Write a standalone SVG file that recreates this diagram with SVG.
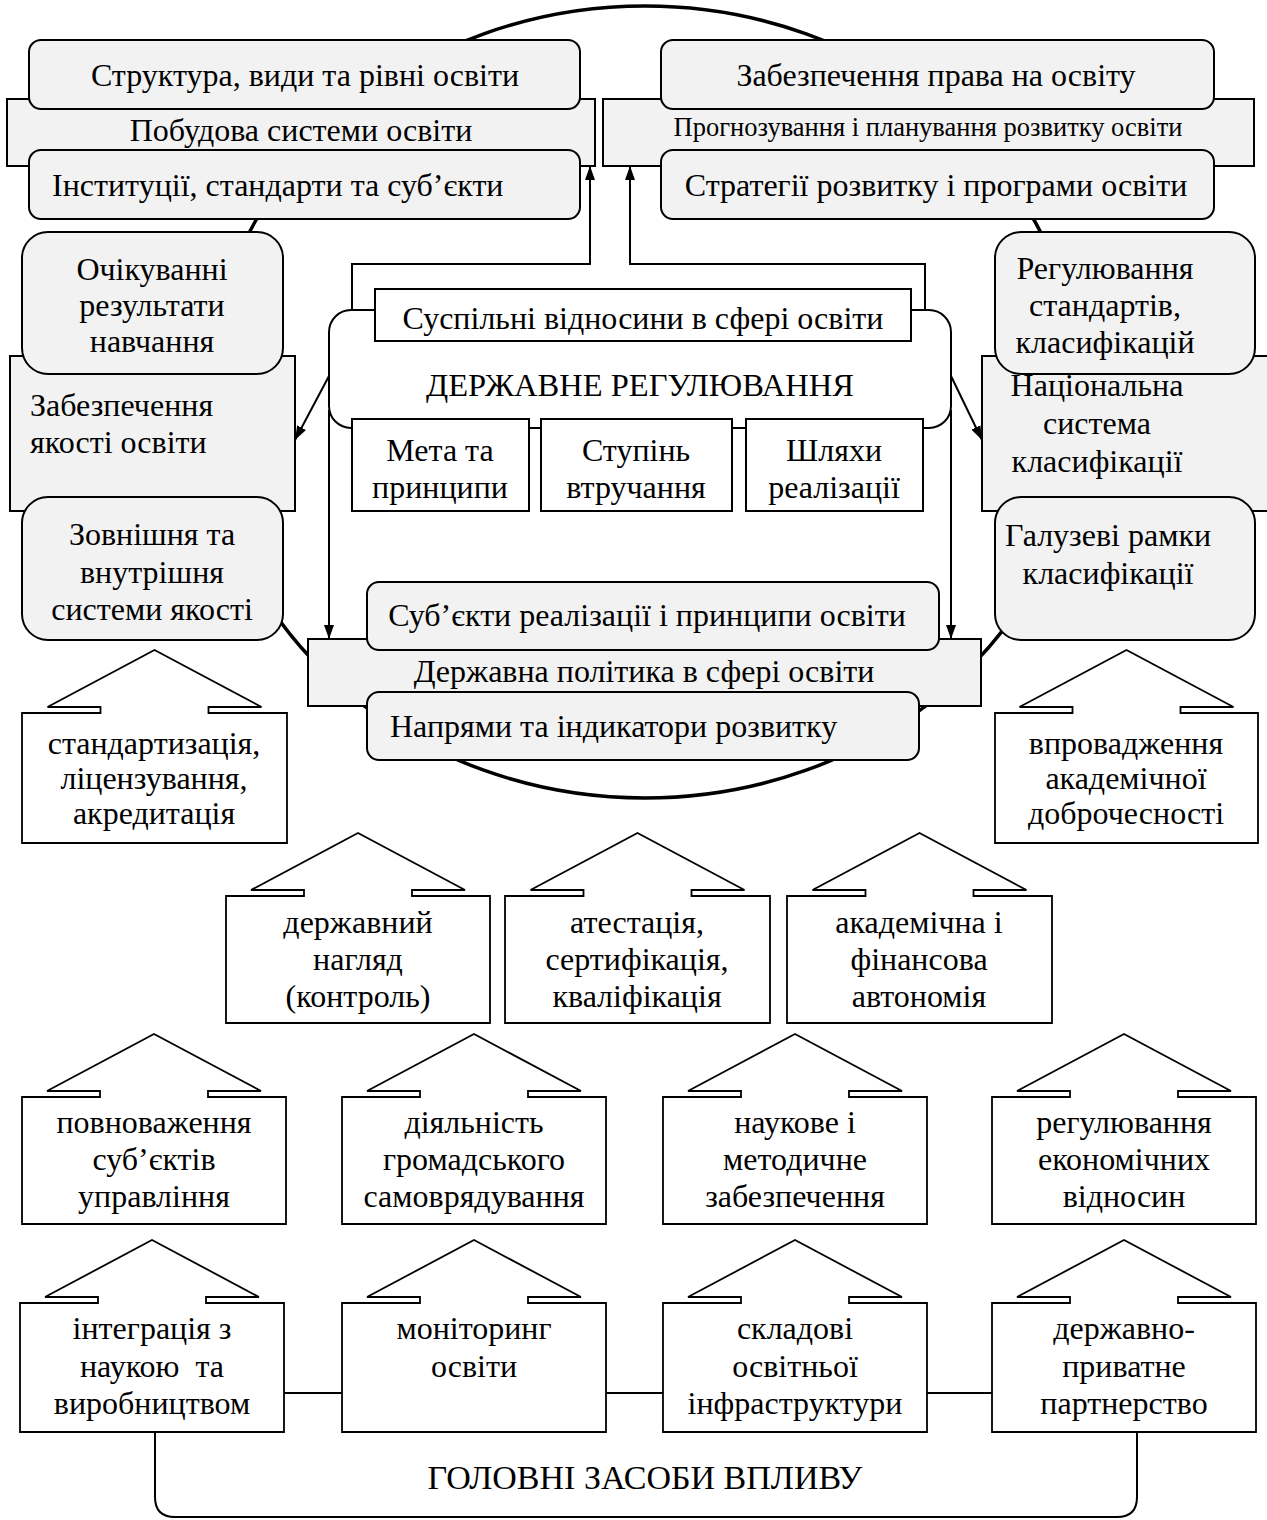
<svg xmlns="http://www.w3.org/2000/svg" width="1267" height="1520" viewBox="0 0 1267 1520">
<style>
.g{fill:#f2f2f2;stroke:#000;stroke-width:2}
.w{fill:#fff;stroke:#000;stroke-width:2}
.h{fill:#fff;stroke:#000;stroke-width:1.8}
.t{font-family:"Liberation Serif","Times New Roman",serif;font-size:32px;fill:#000;text-anchor:middle}
.s{text-anchor:start}
.c{fill:none;stroke:#000;stroke-width:2}
.pre{white-space:pre}
</style>
<defs>
<marker id="ah" viewBox="0 0 14 10" refX="14" refY="5" markerWidth="14" markerHeight="10" markerUnits="userSpaceOnUse" orient="auto"><path d="M0,0 L14,5 L0,10 z" fill="#000"/></marker>
</defs>
<rect width="1267" height="1520" fill="#fff"/>
<g id="ring"><ellipse cx="645" cy="402" rx="438" ry="396" fill="none" stroke="#000" stroke-width="3.5"/></g>

<g id="n-pobudova"><rect class="g" x="7" y="99" width="588" height="67"/><text class="t" x="301" y="141">Побудова системи освіти</text></g>
<g id="n-struktura"><rect class="g" x="29" y="40" width="551" height="69" rx="12"/><text class="t" x="305" y="86">Структура, види та рівні освіти</text></g>
<g id="n-instytucii"><rect class="g" x="29" y="150" width="551" height="69" rx="12"/><text class="t s" x="52" y="196">Інституції, стандарти та суб’єкти</text></g>

<g id="n-prognoz"><rect class="g" x="603" y="99" width="651" height="67"/><text class="t" x="928" y="136" style="font-size:26.5px">Прогнозування і планування розвитку освіти</text></g>
<g id="n-pravo"><rect class="g" x="661" y="40" width="553" height="69" rx="12"/><text class="t" x="936" y="86">Забезпечення права на освіту</text></g>
<g id="n-strategii"><rect class="g" x="661" y="150" width="553" height="69" rx="12"/><text class="t" x="936" y="196">Стратегії розвитку і програми освіти</text></g>

<g id="n-yakist"><rect class="g" x="10" y="356" width="285" height="155"/><text class="t s" x="30" y="416">Забезпечення</text><text class="t s" x="30" y="453">якості освіти</text></g>
<g id="n-ochikuvani"><rect class="g" x="22" y="232" width="261" height="142" rx="26"/><text class="t" x="152" y="280">Очікуванні</text><text class="t" x="152" y="316">результати</text><text class="t" x="152" y="352">навчання</text></g>
<g id="n-zovnishnia"><rect class="g" x="22" y="497" width="261" height="143" rx="26"/><text class="t" x="152" y="545">Зовнішня та</text><text class="t" x="152" y="583">внутрішня</text><text class="t" x="152" y="620">системи якості</text></g>

<g id="n-nacionalna"><rect class="g" x="982" y="356" width="290" height="155"/><text class="t" x="1097" y="396">Національна</text><text class="t" x="1097" y="434">система</text><text class="t" x="1097" y="472">класифікації</text></g>
<g id="n-regul-stand"><rect class="g" x="995" y="232" width="260" height="142" rx="26"/><text class="t" x="1105" y="279">Регулювання</text><text class="t" x="1105" y="316">стандартів,</text><text class="t" x="1105" y="353">класифікацій</text></g>
<g id="n-haluzevi"><rect class="g" x="995" y="497" width="260" height="143" rx="26"/><text class="t" x="1108" y="546">Галузеві рамки</text><text class="t" x="1108" y="584">класифікації</text></g>

<g id="n-derzh-reg"><rect class="w" x="329" y="310" width="622" height="118" rx="22"/><text class="t" x="640" y="396" style="font-size:32.5px">ДЕРЖАВНЕ РЕГУЛЮВАННЯ</text></g>
<g id="n-suspilni"><rect class="w" x="375" y="289" width="536" height="52"/><text class="t" x="643" y="329">Суспільні відносини в сфері освіти</text></g>
<g id="n-meta"><rect class="w" x="352" y="419" width="177" height="92"/><text class="t" x="440" y="461">Мета та</text><text class="t" x="440" y="498">принципи</text></g>
<g id="n-stupin"><rect class="w" x="541" y="419" width="191" height="92"/><text class="t" x="636" y="461">Ступінь</text><text class="t" x="636" y="498">втручання</text></g>
<g id="n-shliakhy"><rect class="w" x="746" y="419" width="177" height="92"/><text class="t" x="834" y="461">Шляхи</text><text class="t" x="834" y="498">реалізації</text></g>

<g id="n-polityka"><rect class="g" x="308" y="639" width="673" height="67"/><text class="t" x="644" y="682">Державна політика в сфері освіти</text></g>
<g id="n-subiekty"><rect class="g" x="367" y="582" width="572" height="68" rx="12"/><text class="t" x="647" y="626">Суб’єкти реалізації і принципи освіти</text></g>
<g id="n-napriamy"><rect class="g" x="367" y="692" width="552" height="68" rx="12"/><text class="t s" x="390" y="737">Напрями та індикатори розвитку</text></g>

<g id="n-standart"><path class="h" d="M22,843 V713 H100.5 V707 H47.5 L154.5,650 L261.5,707 H208.5 V713 H287 V843 Z"/><text class="t" x="154" y="754">стандартизація,</text><text class="t" x="154" y="789">ліцензування,</text><text class="t" x="154" y="824">акредитація</text></g>
<g id="n-dobrochesnist"><path class="h" d="M995,843 V713 H1072.5 V707 H1019.5 L1126.5,650 L1233.5,707 H1180.5 V713 H1258 V843 Z"/><text class="t" x="1126" y="754">впровадження</text><text class="t" x="1126" y="789">академічної</text><text class="t" x="1126" y="824">доброчесності</text></g>

<g id="n-nagliad"><path class="h" d="M226,1023 V896 H304 V890 H251 L358,833 L465,890 H412 V896 H490 V1023 Z"/><text class="t" x="358" y="933">державний</text><text class="t" x="358" y="970">нагляд</text><text class="t" x="358" y="1007">(контроль)</text></g>
<g id="n-atestaciia"><path class="h" d="M505,1023 V896 H583.5 V890 H530.5 L637.5,833 L744.5,890 H691.5 V896 H770 V1023 Z"/><text class="t" x="637" y="933">атестація,</text><text class="t" x="637" y="970">сертифікація,</text><text class="t" x="637" y="1007">кваліфікація</text></g>
<g id="n-avtonomiia"><path class="h" d="M787,1023 V896 H865.5 V890 H812.5 L919.5,833 L1026.5,890 H973.5 V896 H1052 V1023 Z"/><text class="t" x="919" y="933">академічна і</text><text class="t" x="919" y="970">фінансова</text><text class="t" x="919" y="1007">автономія</text></g>

<g id="n-povnovazhennia"><path class="h" d="M22,1224 V1097 H100 V1091 H47 L154,1034 L261,1091 H208 V1097 H286 V1224 Z"/><text class="t" x="154" y="1133">повноваження</text><text class="t" x="154" y="1170">суб’єктів</text><text class="t" x="154" y="1207">управління</text></g>
<g id="n-samovriaduvannia"><path class="h" d="M342,1224 V1097 H420 V1091 H367 L474,1034 L581,1091 H528 V1097 H606 V1224 Z"/><text class="t" x="474" y="1133">діяльність</text><text class="t" x="474" y="1170">громадського</text><text class="t" x="474" y="1207">самоврядування</text></g>
<g id="n-naukove"><path class="h" d="M663,1224 V1097 H741 V1091 H688 L795,1034 L902,1091 H849 V1097 H927 V1224 Z"/><text class="t" x="795" y="1133">наукове і</text><text class="t" x="795" y="1170">методичне</text><text class="t" x="795" y="1207">забезпечення</text></g>
<g id="n-ekonomichni"><path class="h" d="M992,1224 V1097 H1070 V1091 H1017 L1124,1034 L1231,1091 H1178 V1097 H1256 V1224 Z"/><text class="t" x="1124" y="1133">регулювання</text><text class="t" x="1124" y="1170">економічних</text><text class="t" x="1124" y="1207">відносин</text></g>

<g id="n-integraciia"><path class="h" d="M20,1432 V1303 H98 V1297 H45 L152,1240 L259,1297 H206 V1303 H284 V1432 Z"/><text class="t" x="152" y="1339">інтеграція з</text><text class="t pre" x="152" y="1377">наукою  та</text><text class="t" x="152" y="1414">виробництвом</text></g>
<g id="n-monitoryng"><path class="h" d="M342,1432 V1303 H420 V1297 H367 L474,1240 L581,1297 H528 V1303 H606 V1432 Z"/><text class="t" x="474" y="1339">моніторинг</text><text class="t" x="474" y="1377">освіти</text></g>
<g id="n-infrastruktura"><path class="h" d="M663,1432 V1303 H741 V1297 H688 L795,1240 L902,1297 H849 V1303 H927 V1432 Z"/><text class="t" x="795" y="1339">складові</text><text class="t" x="795" y="1377">освітньої</text><text class="t" x="795" y="1414">інфраструктури</text></g>
<g id="n-partnerstvo"><path class="h" d="M992,1432 V1303 H1070 V1297 H1017 L1124,1240 L1231,1297 H1178 V1303 H1256 V1432 Z"/><text class="t" x="1124" y="1339">державно-</text><text class="t" x="1124" y="1377">приватне</text><text class="t" x="1124" y="1414">партнерство</text></g>

<g id="n-holovni"><text class="t" x="645" y="1489" style="font-size:34px">ГОЛОВНІ ЗАСОБИ ВПЛИВУ</text></g>

<g id="connectors">
<path class="c" d="M352,310 V264 H590 V166" marker-end="url(#ah)"/>
<path class="c" d="M925,310 V264 H630 V166" marker-end="url(#ah)"/>
<path class="c" d="M329,376 L295,440" marker-end="url(#ah)"/>
<path class="c" d="M951,376 L982,440" marker-end="url(#ah)"/>
<path class="c" d="M329,410 V639" marker-end="url(#ah)"/>
<path class="c" d="M951,410 V639" marker-end="url(#ah)"/>
<path class="c" d="M284,1393 H342 M606,1393 H663 M927,1393 H992"/>
<path class="c" d="M155,1432 V1497 Q155,1517 175,1517 H1117 Q1137,1517 1137,1497 V1432"/>
</g>
</svg>
